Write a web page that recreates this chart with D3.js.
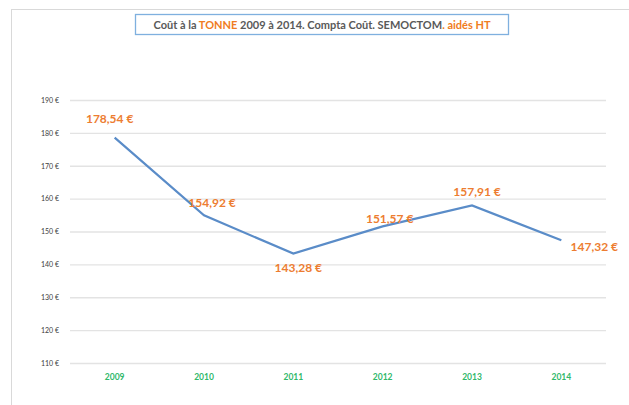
<!DOCTYPE html>
<html lang="fr">
  <head>
    <meta charset="UTF-8" />
    <title>Coût à la tonne</title>
    <script src="https://d3js.org/d3.v7.min.js"></script>
    <style>
      body { margin: 0; background: #fff; }
      text { font-family: Lato, "Open Sans", sans-serif; }
    </style>
  </head>
  <body>
    <svg width="629" height="405"></svg>
    <script>
      // données
      const years = ["2009", "2010", "2011", "2012", "2013", "2014"];
      const costs = [178.54, 154.92, 143.28, 151.57, 157.91, 147.32];
      const yTicks = [110, 120, 130, 140, 150, 160, 170, 180, 190];

      // décalage des étiquettes (placées à la main comme dans Excel)
      const labelShift = [[-5, -19], [8, -13], [5, 14], [7, -8], [5, -14], [33, 6]];

      const svg = d3.select("svg");
      const margin = { top: 100, right: 23, bottom: 42, left: 70 };
      const W = 629, H = 405;

      // cadre
      svg.append("rect")
        .attr("x", 11.5).attr("y", 9.5)
        .attr("width", 640).attr("height", 420)
        .attr("fill", "#fff").attr("stroke", "#d9d9d9");

      const x = d3.scaleBand()
        .domain(years)
        .range([margin.left, W - margin.right]);

      const y = d3.scaleLinear()
        .domain([110, 190])
        .range([H - margin.bottom, margin.top]);

      // grille + axe y
      const yAxis = svg.append("g")
        .attr("transform", `translate(${margin.left},0)`)
        .call(d3.axisLeft(y).tickValues(yTicks)
          .tickSize(-(W - margin.left - margin.right))
          .tickPadding(11)
          .tickFormat(d => d + " €"));
      yAxis.select(".domain").remove();
      yAxis.selectAll("line").attr("stroke", "#e3e3e3").attr("stroke-width", 1.3);
      yAxis.selectAll("text")
        .attr("fill", "#404040").attr("font-size", 7);

      // axe x
      const xAxis = svg.append("g")
        .attr("transform", `translate(0,${H - margin.bottom})`)
        .call(d3.axisBottom(x).tickSize(0).tickPadding(11));
      xAxis.select(".domain").remove();
      xAxis.selectAll("text")
        .attr("fill", "#2fb86a").attr("font-size", 8.5).attr("font-weight", "bold");

      // courbe
      const line = d3.line()
        .x((d, i) => x(years[i]) + x.bandwidth() / 2)
        .y(d => y(d));
      svg.append("path")
        .datum(costs)
        .attr("d", line)
        .attr("fill", "none")
        .attr("stroke", "#5a8cc8")
        .attr("stroke-width", 2.2);

      // étiquettes
      svg.selectAll(".lab").data(costs).enter().append("text")
        .attr("class", "lab")
        .attr("x", (d, i) => x(years[i]) + x.bandwidth() / 2 + labelShift[i][0])
        .attr("y", (d, i) => y(d) + labelShift[i][1])
        .attr("dy", "0.35em")
        .attr("text-anchor", "middle")
        .attr("fill", "#ed7d31")
        .attr("font-size", 12)
        .attr("font-weight", "bold")
        .text(d => d.toFixed(2).replace(".", ",") + " €");

      // titre
      svg.append("rect")
        .attr("x", 135.5).attr("y", 14.5)
        .attr("width", 373).attr("height", 20)
        .attr("fill", "#fff").attr("stroke", "#7fb0df").attr("stroke-width", 1.3);
      const title = svg.append("text")
        .attr("x", 322).attr("y", 28.5)
        .attr("text-anchor", "middle")
        .attr("font-size", 11)
        .attr("font-weight", "bold")
        .attr("fill", "#595959");
      title.append("tspan").text("Coût à la ");
      title.append("tspan").attr("fill", "#f07c22").text("TONNE");
      title.append("tspan").text(" 2009 à 2014. Compta Coût. SEMOCTOM");
      title.append("tspan").attr("fill", "#f07c22").text(". aidés HT");
    </script>
  </body>
</html>
